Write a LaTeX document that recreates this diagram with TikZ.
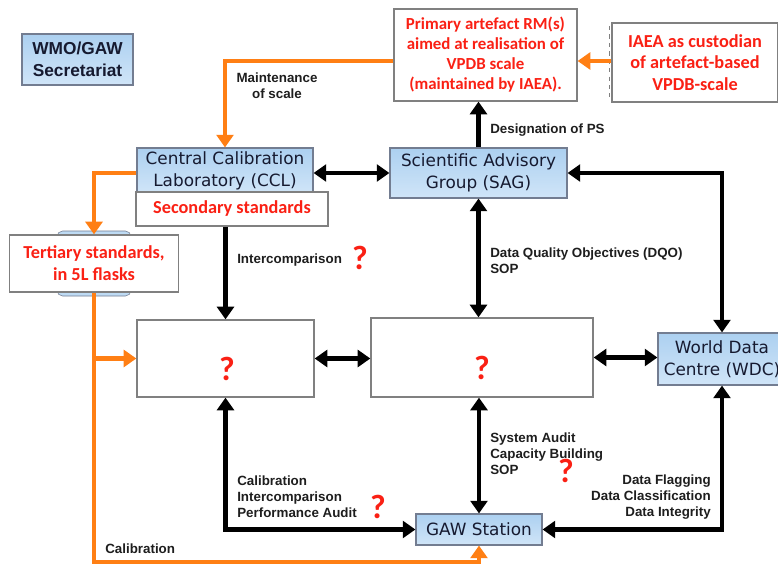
\documentclass[tikz,border=0pt]{standalone}
\usepackage{fontspec}
\setmainfont{Liberation Sans}
\newfontfamily\dejavu{DejaVu Sans}
\newfontfamily\carlito{Carlito}
\usetikzlibrary{arrows.meta}
\definecolor{boxblue}{RGB}{190,219,244}
\definecolor{boxbluetop}{RGB}{172,208,240}
\definecolor{boxbluebot}{RGB}{208,229,248}
\definecolor{edgegray}{RGB}{115,125,145}
\definecolor{navytext}{RGB}{22,26,48}
\definecolor{redtext}{RGB}{250,32,20}
\definecolor{lbltext}{RGB}{30,30,30}
\definecolor{orng}{RGB}{255,127,20}
\begin{document}
\begin{tikzpicture}[x=0.025cm, y=-0.025cm,
    bluebox/.style={draw=edgegray, top color=boxbluetop, bottom color=boxbluebot, line width=0.8pt, inner sep=0pt,
      align=center, text=navytext, font=\dejavu\fontsize{12}{15.5}\selectfont},
    whitebox/.style={draw=gray, fill=white, line width=0.9pt, inner sep=0pt,
      align=center, text=redtext, font=\carlito\bfseries\fontsize{13}{15.5}\selectfont},
    lbl/.style={font=\bfseries\fontsize{9.5}{11.3}\selectfont, text=lbltext, inner sep=0pt},
    qmark/.style={text=redtext, font=\carlito\bfseries\fontsize{24}{24}\selectfont, inner sep=0pt},
    blk/.style={line width=3pt, black, -{Triangle[width=12pt,length=9pt]}},
    blkboth/.style={line width=3pt, black, {Triangle[width=12pt,length=9pt]}-{Triangle[width=12pt,length=9pt]}},
    org/.style={line width=3pt, orng, -{Triangle[width=12pt,length=9pt]}}]
        \useasboundingbox[fill=white] (0,0) rectangle (778,565);

        % boxes
        \node[bluebox, font=\bfseries\fontsize{12.3}{15.6}\selectfont, minimum width=2.775cm, minimum height=1.275cm] (wmo) at (77.5,59.5) {WMO/GAW\\Secretariat};
        \node[whitebox, font=\carlito\bfseries\fontsize{12}{14.2}\selectfont, minimum width=4.575cm, minimum height=2.3cm] (prim) at (485.5,55) {Primary artefact RM(s)\\aimed at realisation of\\VPDB scale\\(maintained by IAEA).};
        \draw[gray, dashed, line width=0.6pt] (609,26) -- (609,97);
        \node[whitebox, minimum width=4.15cm, minimum height=1.975cm] (iaea) at (695,62.5) {IAEA as custodian\\of artefact-based\\VPDB-scale};
        \node[bluebox, minimum width=4.4cm, minimum height=1.125cm] (ccl) at (225,170.5) {Central Calibration\\Laboratory (CCL)};
        \node[whitebox, minimum width=4.8cm, minimum height=0.85cm] (sec) at (232,209) {Secondary standards};
        \node[bluebox, minimum width=4.425cm, minimum height=1.25cm] (sag) at (478.5,173) {Scientific Advisory\\Group (SAG)};
        \draw[draw=edgegray, fill=boxblue, rounded corners=4pt] (57,231) rectangle (131,296);
        \node[whitebox, minimum width=4.225cm, minimum height=1.425cm] (ter) at (94,263.5) {Tertiary standards,\\in 5L flasks};
        \node[whitebox, minimum width=4.425cm, minimum height=1.925cm] (q1) at (225.5,358.5) {};
        \node[qmark] (q1m) at (227,369) {?};
        \node[whitebox, minimum width=5.55cm, minimum height=1.975cm] (q2) at (482,357.5) {};
        \node[qmark] (q2m) at (482,368) {?};
        \node[bluebox, minimum width=3.2cm, minimum height=1.3cm] (wdc) at (722,359) {World Data\\Centre (WDC)};
        \node[bluebox, minimum width=3.15cm, minimum height=0.775cm] (gaw) at (479,529.5) {GAW Station};

        % orange links
        \draw[org] (iaea.west |- 0,61) -- (prim.east |- 0,61);
        \draw[org] (prim.west |- 0,61) -| (ccl.north);
        \draw[org] (ccl.west |- 0,173) -| (ter.north);
        \coordinate (bot) at (95,562);
        \draw[org] (ter.south) |- (gaw.south |- bot) -- (gaw.south);
        \draw[org] (ter.south |- q1.west) -- (q1.west);

        % black links
        \draw[blkboth] (ccl.east |- sag.west) -- (sag.west);
        \draw[blk] (sag.north) -- (sag.north |- prim.south);
        \draw[blkboth] (sag.east) -| (wdc.north);
        \draw[blk] (q1.north |- sec.south) -- (q1.north);
        \draw[blkboth] (q1.east) -- (q1.east -| q2.west);
        \draw[blkboth] (sag.south) -- (sag.south |- q2.north);
        \draw[blkboth] (q2.east) -- (q2.east -| wdc.west);
        \draw[blkboth] (q1.south) |- (gaw.west);
        \draw[blkboth] (gaw.north |- q2.south) -- (gaw.north);
        \draw[blkboth] (gaw.east) -| (wdc.south);

        % labels
        \node[lbl, align=center] (mnt) at (277,86) {Maintenance\\of scale};
        \node[lbl, anchor=west] (dps) at (490,130) {Designation of PS};
        \node[lbl, anchor=west] (icp) at (237,260) {Intercomparison};
        \node[qmark] (icpm) at (360,258) {?};
        \node[lbl, anchor=west, align=left] (dqo) at (490,261) {Data Quality Objectives (DQO)\\SOP};
        \node[lbl, anchor=west, align=left] (cal) at (237,497) {Calibration\\Intercomparison\\Performance Audit};
        \node[qmark] (calm) at (378,507) {?};
        \node[lbl, anchor=west, align=left] (sys) at (490,454) {System Audit\\Capacity Building\\SOP};
        \node[qmark] (sysm) at (566,471) {?};
        \node[lbl, anchor=east, align=right] (flg) at (711,497) {Data Flagging\\Data Classification\\Data Integrity};
        \node[lbl, anchor=west] (clb) at (105,549) {Calibration};
\end{tikzpicture}
\end{document}
